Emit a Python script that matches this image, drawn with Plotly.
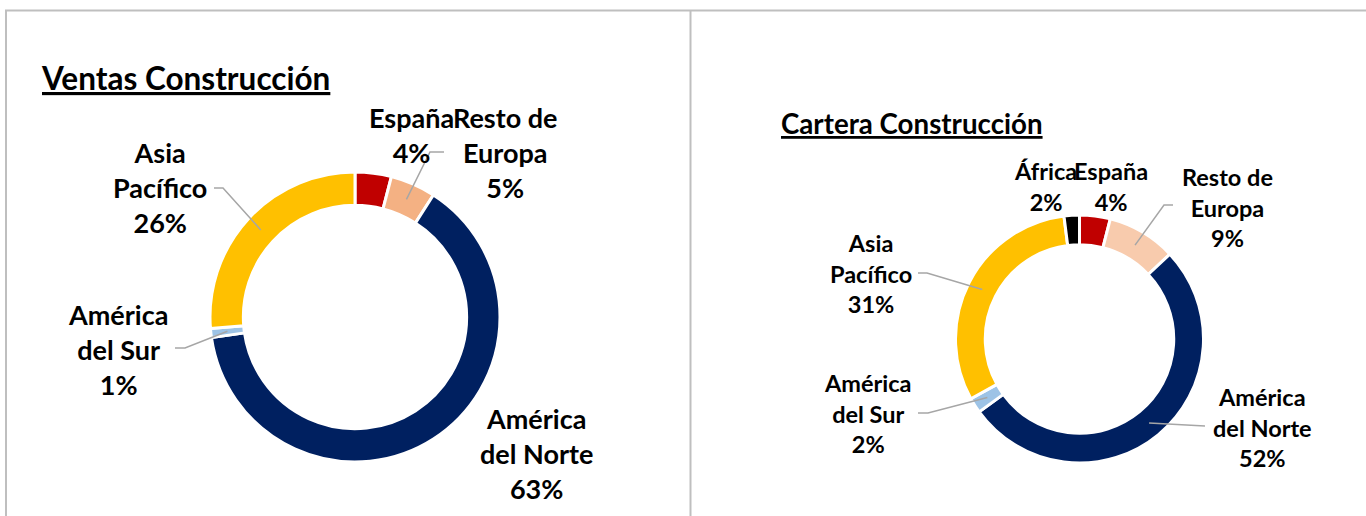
import math
import plotly.graph_objects as go

W, H = 1366, 516

# ---------------- data ----------------
ventas_labels = ["España", "Resto de Europa", "América del Norte", "América del Sur", "Asia Pacífico"]
ventas_values = [4, 5, 63, 1, 26]
ventas_colors = ["#C00000", "#F4B183", "#002060", "#9DC3E6", "#FFC000"]

cartera_labels = ["España", "Resto de Europa", "América del Norte", "América del Sur", "Asia Pacífico", "África"]
cartera_values = [4, 9, 52, 2, 31, 2]
cartera_colors = ["#C00000", "#F8CBAD", "#002060", "#9DC3E6", "#FFC000", "#000000"]

display_names = {
    "España": "España",
    "Resto de Europa": "Resto de<br>Europa",
    "América del Norte": "América<br>del Norte",
    "América del Sur": "América<br>del Sur",
    "Asia Pacífico": "Asia<br>Pacífico",
    "África": "África",
}

# ---------------- layout specs (pixels) ----------------
charts = [
    dict(
        title="Ventas Construcción", title_xy=(39, 78), title_size=31.5,
        labels=ventas_labels, values=ventas_values, colors=ventas_colors,
        center=(355, 317), radius=145, hole=0.77, font_size=27,
        label_pos={
            "España": (411, 135, None),
            "Resto de Europa": (505, 152, (444, 430, 152)),
            "Asia Pacífico": (160, 187, (214, 223, 188)),
            "América del Sur": (118, 349, (175, 185, 348)),
            "América del Norte": (536, 453, None),
        },
    ),
    dict(
        title="Cartera Construcción", title_xy=(779, 124), title_size=27.7,
        labels=cartera_labels, values=cartera_values, colors=cartera_colors,
        center=(1079.5, 339), radius=124, hole=0.76, font_size=23.5,
        label_pos={
            "África": (1045, 186, None),
            "España": (1111, 186, None),
            "Resto de Europa": (1227, 207, (1173, 1164, 205)),
            "Asia Pacífico": (871, 273, (918, 927, 273)),
            "América del Sur": (868, 413, (918, 928, 413)),
            "América del Norte": (1262, 427, (1205, 1205, 426)),
        },
    ),
]


def px_x(x):
    return x / W


def px_y(y):
    return 1 - y / H


fig = go.Figure()
annotations = []
shapes = []

for ch in charts:
    cx, cy = ch["center"]
    R = ch["radius"]
    fig.add_trace(go.Pie(
        labels=ch["labels"], values=ch["values"],
        marker=dict(colors=ch["colors"], line=dict(color="white", width=3)),
        hole=ch["hole"], sort=False, direction="clockwise", rotation=0,
        textinfo="none", hoverinfo="skip", showlegend=False,
        domain=dict(x=[px_x(cx - R), px_x(cx + R)], y=[px_y(cy + R), px_y(cy - R)]),
    ))
    # title
    tx, ty = ch["title_xy"]
    annotations.append(dict(
        text="<b><u>%s</u></b>" % ch["title"], x=px_x(tx), y=px_y(ty),
        xref="paper", yref="paper", xanchor="left", yanchor="middle", showarrow=False,
        font=dict(family="Lato", size=ch["title_size"], color="#000000"),
    ))
    total = sum(ch["values"])
    cum = 0.0
    r_mid = R * (1 + ch["hole"]) / 2
    for lab, val in zip(ch["labels"], ch["values"]):
        mid = (cum + val / 2) / total * 2 * math.pi
        cum += val
        lx, ly, stub = ch["label_pos"][lab]
        annotations.append(dict(
            text="<b>%s<br>%d%%</b>" % (display_names[lab], val),
            x=px_x(lx), y=px_y(ly), xref="paper", yref="paper",
            xanchor="center", yanchor="middle", align="center", showarrow=False,
            font=dict(family="Lato", size=ch["font_size"], color="#000000"),
        ))
        if stub is not None:
            rx = cx + r_mid * math.sin(mid)
            ry = cy - r_mid * math.cos(mid)
            x0, x1, sy = stub
            path = "M %f,%f L %f,%f L %f,%f" % (
                px_x(x0), px_y(sy), px_x(x1), px_y(sy), px_x(rx), px_y(ry))
            shapes.append(dict(type="path", path=path, xref="paper", yref="paper",
                               line=dict(color="#A6A6A6", width=1.5)))

# panel frame lines
border = "#BFBFBF"
shapes += [
    dict(type="line", xref="paper", yref="paper", x0=px_x(5), x1=px_x(1366), y0=px_y(10.5), y1=px_y(10.5),
         line=dict(color=border, width=2)),
    dict(type="line", xref="paper", yref="paper", x0=px_x(6), x1=px_x(6), y0=px_y(10), y1=px_y(516),
         line=dict(color=border, width=2)),
    dict(type="line", xref="paper", yref="paper", x0=px_x(690.5), x1=px_x(690.5), y0=px_y(10), y1=px_y(516),
         line=dict(color=border, width=2)),
]

fig.update_layout(
    width=W, height=H, margin=dict(l=0, r=0, t=0, b=0),
    paper_bgcolor="white", plot_bgcolor="white",
    annotations=annotations, shapes=shapes,
    font=dict(family="Lato"),
)

fig.write_html(
    "out.html",
    config={"displayModeBar": False},
    post_script="document.body.style.margin='0';document.body.style.overflow='hidden';",
)
